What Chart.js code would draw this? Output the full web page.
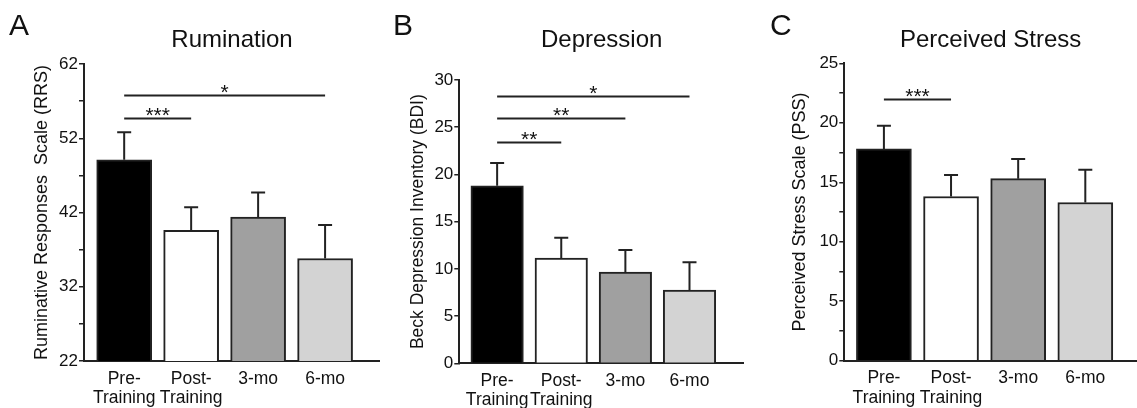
<!DOCTYPE html>
<html>
<head>
<meta charset="utf-8">
<script src="https://cdn.jsdelivr.net/npm/chart.js@4.4.1/dist/chart.umd.min.js"></script>
<style>
    html, body { margin: 0; padding: 0; background: #fff; }
    #wrap { position: relative; width: 1137px; height: 408px; }
    .panel { position: absolute; top: 0; height: 408px; }
</style>
</head>
<body>
<div id="wrap">
    <div class="panel" style="left:0;width:380px"><canvas id="chartA"></canvas></div>
    <div class="panel" style="left:380px;width:364px"><canvas id="chartB"></canvas></div>
    <div class="panel" style="left:757px;width:380px"><canvas id="chartC"></canvas></div>
</div>
<script>
// groups on the x axis
const categories = [["Pre-", "Training"], ["Post-", "Training"], "3-mo", "6-mo"]
const barColors = ["#000000", "#ffffff", "#a0a0a0", "#d3d3d3"]

// A - rumination (RRS), mean and SEM
const rumination = [49.1, 39.6, 41.4, 35.8]
const ruminationErr = [3.7, 3.1, 3.3, 4.5]
const ruminationTicks = [22, 32, 42, 52, 62]
const ruminationSig = [
    { from: 0, to: 1, at: 54.7, stars: "***" },
    { from: 0, to: 3, at: 57.8, stars: "*" }
]

// B - depression (BDI)
const depression = [18.8, 11.15, 9.65, 7.75]
const depressionErr = [2.4, 2.15, 2.35, 2.95]
const depressionTicks = [0, 5, 10, 15, 20, 25, 30]
const depressionSig = [
    { from: 0, to: 1, at: 23.4, stars: "**" },
    { from: 0, to: 2, at: 25.95, stars: "**" },
    { from: 0, to: 3, at: 28.3, stars: "*" }
]

// C - perceived stress (PSS)
const stress = [17.8, 13.8, 15.3, 13.3]
const stressErr = [1.95, 1.8, 1.65, 2.75]
const stressTicks = [0, 5, 10, 15, 20, 25]
const stressSig = [
    { from: 0, to: 1, at: 22.0, stars: "***" }
]

const FONT = "'Liberation Sans', Arial, sans-serif"
const INK = "#222222"

// error bars (upper half only) + significance brackets
const annotations = {
    id: "annotations",
    afterDatasetsDraw(chart, args, opts) {
        const { ctx, scales: { x, y } } = chart
        const means = chart.data.datasets[0].data
        ctx.save()
        ctx.strokeStyle = INK
        ctx.lineWidth = 2
        opts.errors.forEach((err, i) => {
            const cx = x.getPixelForValue(i + 1)
            const base = y.getPixelForValue(means[i].y)
            const top = y.getPixelForValue(means[i].y + err)
            ctx.beginPath()
            ctx.moveTo(cx, base)
            ctx.lineTo(cx, top)
            ctx.moveTo(cx - 7, top)
            ctx.lineTo(cx + 7, top)
            ctx.stroke()
        })
        ctx.fillStyle = "#111"
        ctx.font = "21px " + FONT
        ctx.textAlign = "center"
        ctx.textBaseline = "alphabetic"
        opts.sig.forEach(s => {
            const x1 = x.getPixelForValue(s.from + 1)
            const x2 = x.getPixelForValue(s.to + 1)
            const py = Math.round(y.getPixelForValue(s.at)) + 0.5
            ctx.lineWidth = 1.8
            ctx.beginPath()
            ctx.moveTo(x1, py)
            ctx.lineTo(x2, py)
            ctx.stroke()
            ctx.fillText(s.stars, (x1 + x2) / 2, py + 3)
        })
        ctx.restore()
    },
    afterDraw(chart, args, opts) {
        const { ctx, chartArea } = chart
        ctx.save()
        ctx.fillStyle = "#111"
        ctx.textBaseline = "alphabetic"
        ctx.textAlign = "center"
        ctx.font = "24px " + FONT
        ctx.fillText(opts.title, (chartArea.left + chartArea.right) / 2, 47)
        ctx.textAlign = "left"
        ctx.font = "30px " + FONT
        ctx.fillText(opts.letter, opts.letterX, 35)
        ctx.restore()
    }
}

function withMinors(majors, minors) {
    if (!minors) return majors
    const out = []
    majors.forEach((v, i) => {
        out.push(v)
        if (i < majors.length - 1) out.push((v + majors[i + 1]) / 2)
    })
    return out
}

function makePanel(id, cfg) {
    const allTicks = withMinors(cfg.ticks, cfg.minors)
    return new Chart(document.getElementById(id), {
        type: "bar",
        data: {
            datasets: [{
                data: cfg.values.map((v, i) => ({ x: i + 1, y: v })),
                backgroundColor: barColors,
                borderColor: INK,
                borderWidth: 2,
                barThickness: cfg.barWidth
            }]
        },
        plugins: [annotations],
        options: {
            responsive: true,
            maintainAspectRatio: false,
            animation: false,
            layout: { padding: { top: cfg.top, right: 0, left: 0, bottom: 0 } },
            plugins: {
                legend: { display: false },
                tooltip: { enabled: false },
                annotations: {
                    errors: cfg.errors, sig: cfg.sig,
                    title: cfg.title, letter: cfg.letter, letterX: cfg.letterX
                }
            },
            scales: {
                x: {
                    type: "linear",
                    offset: false,
                    min: cfg.xMin,
                    max: cfg.xMax,
                    afterBuildTicks: s => { s.ticks = categories.map((c, i) => ({ value: i + 1 })) },
                    afterFit: s => { s.height = 408 - cfg.bottom },
                    grid: { display: false, drawTicks: false, offset: false },
                    border: { display: true, color: INK, width: 2 },
                    ticks: {
                        autoSkip: false,
                        maxRotation: 0,
                        padding: 8,
                        color: "#111",
                        font: { family: FONT, size: 17.5, lineHeight: 1.11 },
                        callback: v => categories[v - 1]
                    }
                },
                y: {
                    min: cfg.ticks[0],
                    max: cfg.ticks[cfg.ticks.length - 1],
                    afterBuildTicks: s => { s.ticks = allTicks.map(v => ({ value: v })) },
                    afterFit: s => { s.width = cfg.axisLeft },
                    grid: { display: true, drawOnChartArea: false, drawTicks: true, tickLength: 5, color: INK, lineWidth: 1.5 },
                    border: { display: true, color: INK, width: 2 },
                    ticks: {
                        padding: 1,
                        color: "#111",
                        font: { family: FONT, size: 17 },
                        callback: v => cfg.ticks.includes(v) ? String(v) : ""
                    },
                    title: {
                        display: true,
                        text: cfg.yTitle,
                        color: "#111",
                        font: { family: FONT, size: cfg.yTitleSize },
                        padding: { top: cfg.yTitleX - cfg.yTitleSize * 0.6, bottom: 0 }
                    }
                }
            }
        }
    })
}

makePanel("chartA", {
    values: rumination, errors: ruminationErr, ticks: ruminationTicks, minors: true, sig: ruminationSig,
    title: "Rumination", letter: "A", letterX: 9,
    yTitle: "Ruminative Responses  Scale (RRS)", yTitleSize: 18, yTitleX: 42,
    axisLeft: 84, top: 64, bottom: 361, xMin: 0.4, xMax: 4.82, barWidth: 55
})

makePanel("chartB", {
    values: depression, errors: depressionErr, ticks: depressionTicks, minors: false, sig: depressionSig,
    title: "Depression", letter: "B", letterX: 13,
    yTitle: "Beck Depression Inventory (BDI)", yTitleSize: 17.5, yTitleX: 38,
    axisLeft: 79.3, top: 80, bottom: 363.3, xMin: 0.41, xMax: 4.85, barWidth: 52.5
})

makePanel("chartC", {
    values: stress, errors: stressErr, ticks: stressTicks, minors: true, sig: stressSig,
    title: "Perceived Stress", letter: "C", letterX: 13,
    yTitle: "Perceived Stress Scale (PSS)", yTitleSize: 18, yTitleX: 43,
    axisLeft: 87.3, top: 63.3, bottom: 360.7, xMin: 0.41, xMax: 4.77, barWidth: 55
})
</script>
</body>
</html>
